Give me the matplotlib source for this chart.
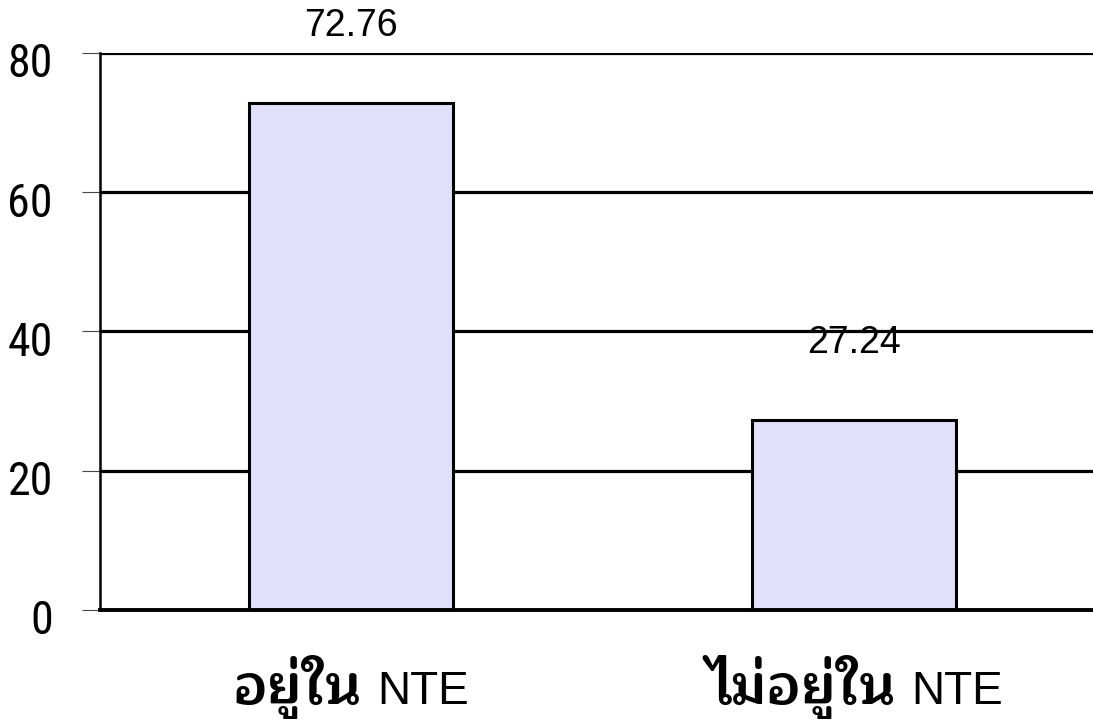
import matplotlib
matplotlib.use("Agg")
import matplotlib.pyplot as plt
import matplotlib.transforms as mtransforms
from matplotlib.offsetbox import TextArea, HPacker, AnnotationBbox

# data
thai_labels = ['อยู่ใน', 'ไม่อยู่ใน']
latin_labels = ['NTE', 'NTE']
values = [72.76, 27.24]
y_ticks = [0, 20, 40, 60, 80]

tick_font = ['Roboto Condensed', 'Liberation Sans', 'DejaVu Sans']
value_font = ['Liberation Sans', 'DejaVu Sans']
thai_font = ['Maitree', 'Noto Sans Thai', 'DejaVu Sans']
latin_font = ['Liberation Sans', 'DejaVu Sans']

fig = plt.figure(figsize=(10.93, 7.21), dpi=100)
ax = fig.add_axes([0.0915, 0.154, 0.9085, 0.7725])

x = list(range(len(values)))
ax.bar(x, values, width=0.405, color='#E0E0FA', edgecolor='black', linewidth=2.2, zorder=3)

ax.set_ylim(0, 80)
ax.set_xlim(-0.499, 1.475)
ax.set_yticks(y_ticks)
ax.set_yticklabels([str(t) for t in y_ticks], fontsize=33, family=tick_font)
ax.yaxis.grid(True, color='black', linewidth=2.3, zorder=1)
ax.set_axisbelow(True)

ax.tick_params(axis='y', length=13, width=0.8, color='#444444', pad=21)
ax.tick_params(axis='x', length=0, labelbottom=False)

# tick labels sit a little below their ticks in the original
offset = mtransforms.ScaledTranslation(0, -7 / 100, fig.dpi_scale_trans)
for lab in ax.get_yticklabels():
    lab.set_transform(lab.get_transform() + offset)

for s in ['top', 'right']:
    ax.spines[s].set_visible(False)
ax.spines['left'].set_linewidth(1.8)
ax.spines['bottom'].set_linewidth(2.8)
ax.spines['bottom'].set_zorder(4)

# value labels
for xi, v in zip(x, values):
    ax.annotate(f'{v:.2f}', xy=(xi, v), xytext=(0, 56), textcoords='offset points',
                ha='center', va='center', fontsize=27, family=value_font)

# category labels: bold Thai + regular NTE
for xi, th, lt in zip(x, thai_labels, latin_labels):
    t1 = TextArea(th, textprops=dict(fontsize=39, fontweight='bold', family=thai_font))
    t2 = TextArea(lt, textprops=dict(fontsize=33, family=latin_font))
    box = HPacker(children=[t1, t2], align='baseline', pad=0, sep=11)
    ab = AnnotationBbox(box, (xi, 0), xycoords=('data', 'axes fraction'),
                        xybox=(0, -55.5), boxcoords='offset points',
                        box_alignment=(0.5, 0.5), frameon=False)
    ax.add_artist(ab)

fig.savefig('out.png', dpi=100)
